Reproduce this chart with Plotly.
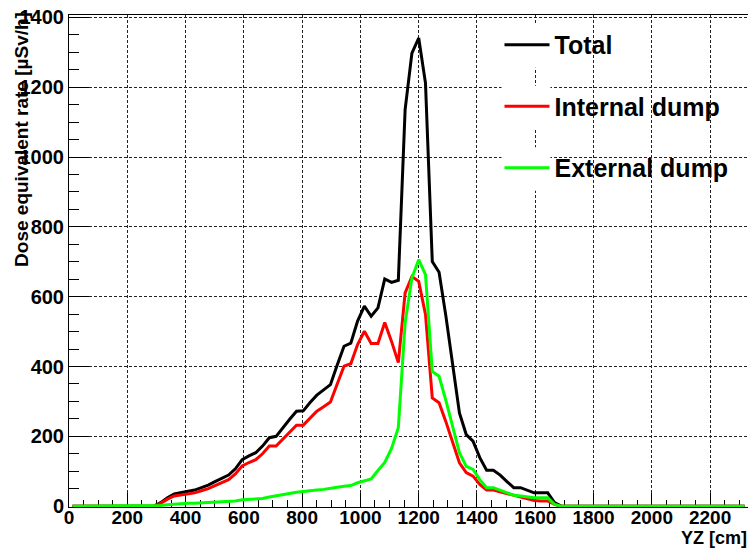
import plotly.graph_objects as go

# Bin centres (cm) of the YZ histogram (100 bins of 23.3 cm from 0 to 2330); zero outside the listed span
yz_cm = [11.7, 291.3, 314.6, 337.9, 361.2, 384.5, 407.8, 431.1, 454.4, 477.7, 501.0,
         524.3, 547.6, 570.9, 594.2, 617.5, 640.8, 664.1, 687.4, 710.7, 734.0,
         757.3, 780.6, 803.9, 827.2, 850.5, 873.8, 897.1, 920.4, 943.7, 967.0,
         990.3, 1013.6, 1036.9, 1060.2, 1083.5, 1106.8, 1130.1, 1153.4, 1176.7, 1200.0,
         1223.3, 1246.6, 1269.9, 1293.2, 1316.5, 1339.8, 1363.1, 1386.4, 1409.7, 1433.0,
         1456.3, 1479.6, 1502.9, 1526.2, 1549.5, 1572.8, 1596.1, 1619.4, 1642.7, 1666.0,
         1689.3, 2318.4]

total = [0, 0, 10, 24, 35, 39, 43, 46, 53, 60, 70,
         79, 89, 107, 133, 144, 153, 172, 196, 200, 226,
         249, 272, 273, 297, 318, 333, 348, 404, 458, 467,
         530, 573, 544, 568, 651, 641, 647, 1136, 1298, 1341,
         1212, 701, 670, 545, 408, 267, 205, 186, 139, 103,
         103, 89, 70, 53, 53, 46, 38, 38, 38, 10,
         0, 0]

internal = [0, 0, 8, 20, 29, 32, 35, 38, 44, 50, 59,
            67, 76, 92, 115, 125, 133, 150, 172, 172, 192,
            212, 232, 232, 252, 272, 285, 298, 350, 401, 408,
            463, 501, 466, 466, 526, 472, 411, 611, 658, 644,
            549, 310, 296, 242, 184, 124, 96, 86, 62, 46,
            46, 41, 36, 29, 26, 21, 16, 15, 15, 5,
            0, 0]

external = [0, 0, 2, 4, 6, 7, 8, 8, 9, 10, 11,
            12, 13, 15, 18, 19, 20, 22, 26, 30, 34,
            37, 40, 42, 45, 46, 48, 50, 54, 57, 59,
            67, 72, 78, 102, 125, 165, 225, 525, 654, 706,
            663, 386, 372, 303, 227, 153, 114, 105, 76, 53,
            53, 46, 38, 31, 29, 26, 24, 24, 24, 5,
            0, 0]

series_names = ["Total", "Internal dump", "External dump"]
series_colors = ["#000000", "#ff0000", "#00ff00"]

FONT = "Liberation Sans, Arial, Helvetica, sans-serif"

fig = go.Figure()
for i, (name, vals, col) in enumerate(zip(series_names, [total, internal, external], series_colors)):
    fig.add_trace(go.Scatter(x=yz_cm, y=vals, mode="lines", name=name,
                             line=dict(color=col, width=3),
                             legendgroup=f"g{i}"))

# white boxes behind the legend line samples (they interrupt the grid, as in the original)
for yc in (0.937, 0.812, 0.687):
    fig.add_shape(type="rect", xref="paper", yref="paper",
                  x0=0.637, x1=0.709, y0=yc - 0.044, y1=yc + 0.044,
                  fillcolor="white", line=dict(width=0), layer="above")

fig.update_layout(
    width=750, height=549,
    margin=dict(l=69, r=2, t=15, b=42),
    paper_bgcolor="white", plot_bgcolor="white",
    font=dict(family=FONT, color="black"),
    showlegend=True,
    legend=dict(x=0.634, y=0.986, xanchor="left", yanchor="top",
                bgcolor="rgba(0,0,0,0)", borderwidth=0,
                font=dict(family=FONT, size=25, weight="bold"),
                tracegroupgap=26, itemwidth=45),
)

fig.update_xaxes(
    range=[0, 2330], dtick=200, tick0=0,
    showline=True, linecolor="black", linewidth=1, mirror=True,
    ticks="inside", ticklen=14, tickcolor="black",
    showgrid=True, gridcolor="#222222", gridwidth=1, griddash="3px,2px",
    zeroline=False, layer="below traces",
    tickfont=dict(family=FONT, size=19, weight="bold"),
    ticklabelstandoff=-7,
    minor=dict(ticks="inside", ticklen=7, dtick=50, tickcolor="black", showgrid=False),
)
fig.update_yaxes(
    range=[-2.5, 1407], dtick=200, tick0=0,
    showline=True, linecolor="black", linewidth=1,
    ticks="inside", ticklen=20, tickcolor="black",
    showgrid=True, gridcolor="#222222", gridwidth=1, griddash="3px,2px",
    zeroline=False, layer="below traces",
    tickfont=dict(family=FONT, size=20, weight="bold"),
    minor=dict(ticks="inside", ticklen=10, dtick=50, tickcolor="black", showgrid=False),
)

fig.add_annotation(text="Dose equivalent rate [µSv/h]", xref="paper", yref="paper",
                   x=-0.0711, y=1.0108, xanchor="center", yanchor="top", textangle=-90,
                   showarrow=False, font=dict(family=FONT, size=19, weight="bold"))
fig.add_annotation(text="YZ [cm]", xref="paper", yref="paper",
                   x=1.0, y=-0.0845, xanchor="right", yanchor="bottom", borderpad=0,
                   showarrow=False, font=dict(family=FONT, size=18, weight="bold"))

fig.write_html("out.html")
